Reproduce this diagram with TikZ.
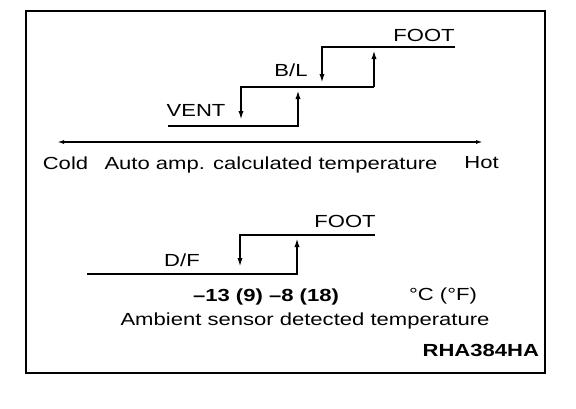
\documentclass[tikz,border=0pt]{standalone}
\usepackage{fontspec}
\setmainfont[FakeStretch=1.26]{Liberation Sans}
\usetikzlibrary{arrows.meta}

\begin{document}
\begin{tikzpicture}[x=10pt, y=-10pt, line width=2pt,
    every node/.style={font=\fontsize{17.5}{21}\selectfont, inner sep=0pt},
    mode arrow/.style={-{Latex[length=10pt,width=5pt]}},
    axis arrow/.style={{Latex[length=7pt,width=4pt]}-{Latex[length=7pt,width=4pt]}}]
    \useasboundingbox (0,0) rectangle (57.6,40.8);
    \draw (2.6,1.1) rectangle (54.5,37.3);

    % calculated temperature: VENT - B/L - FOOT
    \coordinate (ventL) at (16.8,12.6);
    \coordinate (ventR) at (29.8,12.6);
    \coordinate (blL) at (24.1,8.7);
    \coordinate (blR) at (37.4,8.7);
    \coordinate (footL) at (32.2,4.7);
    \coordinate (footR) at (45.5,4.7);
    \coordinate (blUp) at (29.8,8.9);
    \coordinate (ventDn) at (24.1,12.1);
    \coordinate (footUp) at (37.4,4.9);
    \coordinate (blDn) at (32.2,8.4);

    \draw[mode arrow] (ventL) -- (ventR) -- (blUp);
    \draw[mode arrow] (blR) -- (blL) -- (ventDn);
    \draw[mode arrow] (blR) -- (footUp);
    \draw[mode arrow] (footR) -- (footL) -- (blDn);

    \node (vent) at (19.6,11.0) {VENT};
    \node (bl) at (29.1,7.0) {B/L};
    \node (foot) at (42.4,3.5) {FOOT};

    % axis
    \coordinate (coldEnd) at (5.7,14.2);
    \coordinate (hotEnd) at (48.3,14.2);
    \draw[axis arrow] (coldEnd) -- (hotEnd);
    \node (cold) at (6.55,16.3) {Cold};
    \node (auto) at (27.1,16.5) {Auto amp. calculated temperature};
    \node (hot) at (48.15,16.3) {Hot};

    % ambient temperature: D/F - FOOT
    \coordinate (dfL) at (8.7,27.4);
    \coordinate (dfR) at (29.7,27.4);
    \coordinate (ftL) at (24.0,23.5);
    \coordinate (ftR) at (37.5,23.5);
    \coordinate (ftUp) at (29.7,23.7);
    \coordinate (dfDn) at (24.0,26.8);

    \draw[mode arrow] (dfL) -- (dfR) -- (ftUp);
    \draw[mode arrow] (ftR) -- (ftL) -- (dfDn);

    \node (df) at (18.2,26.0) {D/F};
    \node (foot2) at (34.5,22.1) {FOOT};
    \node (values) at (26.6,29.7) {\bfseries \textendash13 (9) \textendash8 (18)};
    \node (units) at (44.3,29.6) {\textdegree C (\textdegree F)};
    \node (ambient) at (30.5,32.1) {Ambient sensor detected temperature};
    \node[anchor=east] (code) at (54.0,35.0) {\bfseries RHA384HA};
\end{tikzpicture}
\end{document}
